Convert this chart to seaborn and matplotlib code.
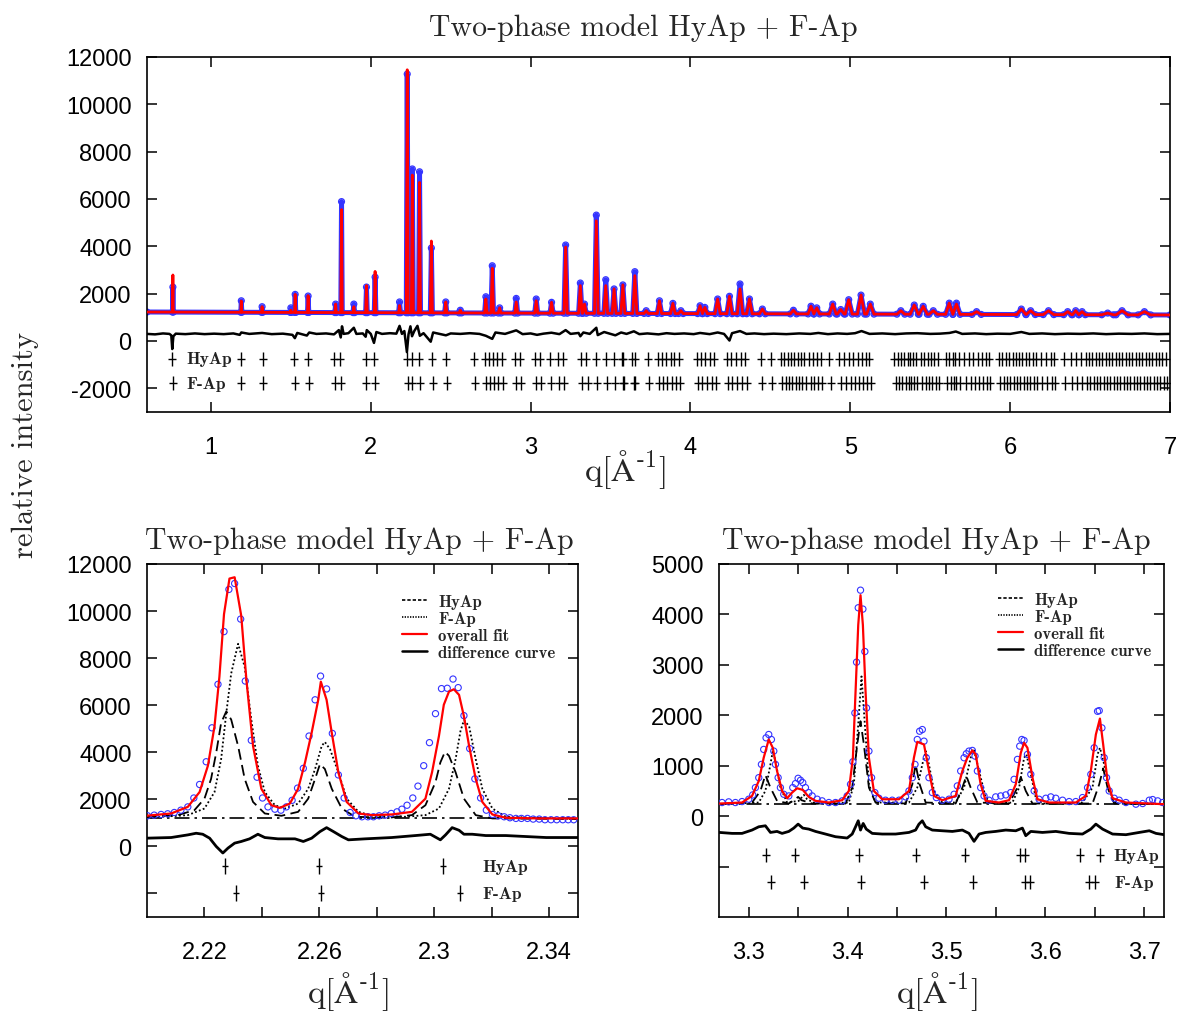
import numpy as np
import pandas as pd
import matplotlib
matplotlib.use("Agg")
import matplotlib.pyplot as plt
import seaborn as sns
from matplotlib.lines import Line2D
from matplotlib.ticker import FixedLocator
from matplotlib.font_manager import FontProperties

# ---------------- data: full pattern (top panel) ----------------
top_peak_q = [0.762, 1.19, 1.32, 1.50, 1.527, 1.608, 1.78, 1.817, 1.894, 1.973, 2.027, 2.18,
              2.228, 2.26, 2.305, 2.379, 2.469, 2.56, 2.72, 2.76, 2.806, 2.91, 3.035, 3.131,
              3.219, 3.311, 3.337, 3.411, 3.470, 3.522, 3.577, 3.652, 3.723, 3.806, 3.89, 3.94,
              4.06, 4.09, 4.17, 4.244, 4.31, 4.369, 4.45, 4.644, 4.754, 4.79, 4.89, 4.94, 4.99,
              5.067, 5.125, 5.316, 5.40, 5.456, 5.519, 5.619, 5.664, 5.79, 6.07, 6.128, 6.24,
              6.36, 6.41, 6.45, 6.61, 6.70, 6.84]
top_peak_fit = [2790, 1690, 1450, 1300, 1970, 1915, 1560, 5550, 1450, 2340, 2940, 1500,
                11460, 7010, 6700, 4225, 1650, 1300, 1775, 3070, 1400, 1650, 1700, 1635,
                3970, 2340, 1560, 5080, 2340, 2200, 2370, 2760, 1280, 1700, 1590, 1280,
                1490, 1420, 1775, 1890, 2200, 1775, 1350, 1300, 1470, 1400, 1560, 1330, 1745,
                1940, 1560, 1280, 1520, 1465, 1280, 1600, 1560, 1240, 1350, 1280, 1280,
                1240, 1280, 1240, 1180, 1280, 1240]
top_peak_obs = [2280, 1700, 1450, 1400, 1970, 1900, 1560, 5890, 1560, 2280, 2700, 1650,
                11280, 7270, 7150, 3930, 1650, 1300, 1870, 3180, 1400, 1800, 1775, 1635,
                4056, 2450, 1560, 5320, 2590, 2200, 2370, 2930, 1280, 1700, 1590, 1280,
                1490, 1420, 1775, 1890, 2410, 1775, 1350, 1300, 1470, 1400, 1560, 1330, 1745,
                1940, 1560, 1280, 1520, 1465, 1280, 1600, 1600, 1240, 1350, 1280, 1280,
                1240, 1280, 1240, 1180, 1280, 1240]
top_bg_q = [0.6, 7.0]
top_bg = [1225, 1100]

top_diff_q = [0.60, 0.65, 0.70, 0.74, 0.752, 0.758, 0.765, 0.78, 0.84, 0.90, 0.96, 1.02, 1.08, 1.14,
              1.18, 1.19, 1.24, 1.32, 1.38, 1.45, 1.51, 1.525, 1.54, 1.60, 1.615, 1.66, 1.72, 1.77,
              1.80, 1.812, 1.82, 1.83, 1.86, 1.894, 1.91, 1.95, 1.968, 1.975, 2.00, 2.02, 2.035,
              2.07, 2.12, 2.16, 2.18, 2.195, 2.21, 2.226, 2.236, 2.248, 2.258, 2.272, 2.292, 2.307,
              2.33, 2.375, 2.39, 2.43, 2.47, 2.50, 2.56, 2.62, 2.68, 2.72, 2.76, 2.78, 2.84, 2.91,
              2.95, 3.00, 3.04, 3.08, 3.13, 3.18, 3.219, 3.25, 3.30, 3.311, 3.33, 3.37, 3.411, 3.42,
              3.46, 3.50, 3.53, 3.566, 3.60, 3.646, 3.68, 3.73, 3.80, 3.85, 3.90, 3.96, 4.02, 4.06,
              4.12, 4.17, 4.21, 4.244, 4.26, 4.31, 4.35, 4.40, 4.46, 4.52, 4.60, 4.68, 4.75, 4.80,
              4.86, 4.92, 4.98, 5.03, 5.07, 5.12, 5.20, 5.28, 5.35, 5.42, 5.50, 5.56, 5.62, 5.66,
              5.70, 5.78, 5.85, 5.92, 6.00, 6.07, 6.12, 6.20, 6.28, 6.36, 6.44, 6.52, 6.60, 6.68,
              6.76, 6.84, 6.92, 7.00]
top_diff = [300, 280, 320, 300, 240, -340, 200, 310, 290, 320, 290, 310, 290, 320,
            260, 360, 300, 340, 290, 310, 260, 120, 340, 230, 360, 300, 320, 280,
            460, 150, 620, 300, 330, 560, 300, 320, 180, 460, 300, -80, 380,
            300, 330, 310, 640, 300, 420, -470, 280, 620, 200, 420, 640, 220,
            330, -30, 360, 300, 240, 320, 300, 330, 300, 220, 90, 360, 300, 450,
            290, 320, 260, 310, 350, 290, 460, 300, 340, 200, 360, 300, 560, 250,
            380, 300, 240, 360, 300, 410, 290, 320, 280, 330, 300, 320, 290, 340,
            290, 360, 300, 20, 330, 420, 300, 320, 290, 310, 290, 320, 300, 340,
            290, 320, 300, 330, 420, 300, 320, 290, 320, 330, 300, 310, 340, 400,
            300, 320, 290, 310, 300, 380, 300, 320, 290, 310, 300, 320, 290, 310,
            300, 320, 290, 300]

# reflection positions
hyap_pos = [0.758, 1.186, 1.323, 1.521, 1.608, 1.771, 1.806, 1.967, 2.019, 2.227, 2.26, 2.303,
            2.383, 2.469, 2.646, 2.7125, 2.7375, 2.764, 2.792, 2.823, 2.900, 2.931, 3.025, 3.056,
            3.119, 3.171, 3.202, 3.318, 3.347, 3.412, 3.4695, 3.519, 3.574, 3.5795, 3.635, 3.655,
            3.733, 3.796, 3.823, 3.848, 3.879, 3.900, 3.927, 4.042, 4.067, 4.094, 4.125, 4.150,
            4.227, 4.254, 4.286, 4.317, 4.344, 4.442, 4.504, 4.567, 4.588, 4.608, 4.629, 4.650,
            4.671, 4.692, 4.713, 4.744, 4.764, 4.790, 4.817, 4.869, 4.931, 4.963, 4.994, 5.019,
            5.046, 5.071, 5.098, 5.119, 5.275, 5.296, 5.317, 5.338, 5.358, 5.373, 5.390, 5.410,
            5.442, 5.463, 5.483, 5.504, 5.525, 5.546, 5.598, 5.619, 5.640, 5.656, 5.681, 5.713,
            5.744, 5.769, 5.796, 5.823, 5.848, 5.869, 5.931, 5.952, 5.973, 5.994, 6.015, 6.035,
            6.056, 6.077, 6.098, 6.119, 6.140, 6.161, 6.192, 6.223, 6.254, 6.275, 6.338, 6.379,
            6.410, 6.442, 6.473, 6.494, 6.515, 6.535, 6.556, 6.577, 6.598, 6.619, 6.640, 6.661,
            6.682, 6.702, 6.723, 6.744, 6.765, 6.786, 6.806, 6.827, 6.848, 6.869, 6.890, 6.910,
            6.931, 6.952, 6.973]
fap_pos = [0.760, 1.190, 1.327, 1.526, 1.612, 1.776, 1.811, 1.972, 2.024, 2.231, 2.2605, 2.309,
           2.389, 2.475, 2.655, 2.719, 2.744, 2.770, 2.798, 2.830, 2.906, 2.938, 3.031, 3.063,
           3.126, 3.178, 3.209, 3.323, 3.356, 3.414, 3.477, 3.527, 3.5795, 3.584, 3.644, 3.650,
           3.742, 3.803, 3.830, 3.856, 3.886, 3.908, 3.935, 4.050, 4.075, 4.102, 4.133, 4.158,
           4.235, 4.262, 4.294, 4.325, 4.352, 4.450, 4.512, 4.575, 4.596, 4.616, 4.637, 4.658,
           4.679, 4.700, 4.721, 4.752, 4.772, 4.798, 4.825, 4.877, 4.939, 4.971, 5.002, 5.027,
           5.054, 5.079, 5.106, 5.127, 5.283, 5.304, 5.325, 5.346, 5.366, 5.381, 5.398, 5.418,
           5.450, 5.471, 5.491, 5.512, 5.533, 5.554, 5.606, 5.627, 5.648, 5.664, 5.689, 5.721,
           5.752, 5.777, 5.804, 5.831, 5.856, 5.877, 5.939, 5.960, 5.981, 6.002, 6.023, 6.043,
           6.064, 6.085, 6.106, 6.127, 6.148, 6.169, 6.200, 6.231, 6.262, 6.283, 6.346, 6.387,
           6.418, 6.450, 6.481, 6.502, 6.523, 6.543, 6.564, 6.585, 6.606, 6.627, 6.648, 6.669,
           6.690, 6.710, 6.731, 6.752, 6.773, 6.794, 6.814, 6.835, 6.856, 6.877, 6.898, 6.918,
           6.939, 6.960, 6.981]

# ---------------- data: zoom 2.20-2.35 ----------------
bl_fit_q = [2.1996, 2.2084, 2.2142, 2.2183, 2.2212, 2.2235, 2.2252, 2.2268, 2.2287, 2.2305, 2.2328,
            2.2346, 2.2369, 2.2398, 2.2433, 2.2462, 2.2497, 2.2526, 2.2550, 2.2573, 2.2596, 2.2605,
            2.2625, 2.2643, 2.2666, 2.2695, 2.2736, 2.2783, 2.2852, 2.2922, 2.2969, 2.2992, 2.3016,
            2.3033, 2.3051, 2.3068, 2.3086, 2.3103, 2.3121, 2.3144, 2.3167, 2.3202, 2.3249, 2.3365,
            2.3503]
bl_fit = [1301, 1399, 1679, 2309, 3429, 5109, 7209, 9869, 11381, 11437, 9799,
          7069, 4269, 2449, 1749, 1637, 1819, 2449, 3569, 4829, 6229, 7000,
          6229, 4829, 3149, 1889, 1399, 1329, 1357, 1469, 2029, 3149, 4689,
          6019, 6579, 6677, 6439, 5529, 4269, 2869, 1889, 1357, 1217, 1189,
          1189]
bl_obs_q = [2.2002, 2.2025, 2.2049, 2.2072, 2.2095, 2.2118, 2.2142, 2.2163, 2.2183, 2.2206, 2.2226,
            2.2247, 2.2268, 2.2285, 2.2305, 2.2326, 2.2342, 2.2363, 2.2383, 2.2402, 2.2421, 2.2445,
            2.2466, 2.2485, 2.2505, 2.2524, 2.2544, 2.2564, 2.2585, 2.2604, 2.2625, 2.2645, 2.2666,
            2.2686, 2.2707, 2.2727, 2.2748, 2.2769, 2.2788, 2.2808, 2.2829, 2.2850, 2.2870, 2.2887,
            2.2905, 2.2925, 2.2943, 2.2963, 2.2983, 2.3004, 2.3025, 2.3045, 2.3065, 2.3083, 2.3103,
            2.3123, 2.3141, 2.3161, 2.3181, 2.3202, 2.3223, 2.3243, 2.3263, 2.3284, 2.3303, 2.3324,
            2.3344, 2.3365, 2.3385, 2.3406, 2.3426, 2.3447, 2.3466, 2.3485]
bl_obs = [1301, 1329, 1357, 1385, 1441, 1539, 1679, 2057, 2631, 3597, 5039,
          6887, 9127, 10919, 11171, 9659, 7027, 4507, 2939, 2057, 1679, 1581,
          1539, 1679, 1959, 2477, 3317, 4689, 6229, 7237, 6691, 4801, 3037,
          2057, 1441, 1301, 1259, 1259, 1259, 1301, 1329, 1399, 1469, 1581,
          1749, 2057, 2561, 3429, 4409, 5641, 6705, 6719, 7111, 6747, 5557,
          4157, 2869, 2057, 1539, 1357, 1301, 1259, 1217, 1189, 1189, 1189,
          1161, 1161, 1133, 1133, 1133, 1133, 1133, 1133]
bl_hyap_q = [2.1996, 2.2107, 2.2165, 2.2200, 2.2223, 2.2241, 2.2258, 2.2276, 2.2293, 2.2317, 2.2340,
             2.2369, 2.2410, 2.2468, 2.2526, 2.2561, 2.2585, 2.2602, 2.2619, 2.2643, 2.2678, 2.2724,
             2.2841, 2.2922, 2.2969, 2.3004, 2.3021, 2.3037, 2.3051, 2.3074, 2.3103, 2.3144, 2.3202,
             2.3503]
bl_hyap = [1259, 1329, 1539, 2029, 2869, 3989, 5249, 5739, 5389, 4269, 2869,
           1889, 1399, 1301, 1469, 2029, 2869, 3499, 3289, 2449, 1609, 1259,
           1217, 1329, 1749, 2729, 3569, 4017, 3849, 3149, 2029, 1329, 1189,
           1161]
bl_fap_q = [2.1996, 2.2142, 2.2200, 2.2235, 2.2258, 2.2276, 2.2293, 2.2317, 2.2340, 2.2363, 2.2386,
            2.2410, 2.2445, 2.2480, 2.2526, 2.2561, 2.2585, 2.2608, 2.2619, 2.2637, 2.2666, 2.2695,
            2.2736, 2.2783, 2.2899, 2.2969, 2.3016, 2.3051, 2.3074, 2.3091, 2.3103, 2.3121, 2.3144,
            2.3167, 2.3202, 2.3249, 2.3503]
bl_fap = [1217, 1329, 1609, 2309, 3709, 5669, 7349, 8609, 7629, 5389, 3429,
          2309, 1749, 1609, 1819, 2449, 3289, 4269, 4437, 4129, 3149, 2029,
          1469, 1301, 1259, 1329, 1609, 2449, 3709, 4899, 5361, 5109, 3709,
          2449, 1609, 1259, 1161]
bl_diff_q = [2.1996, 2.2084, 2.2142, 2.2171, 2.2194, 2.2218, 2.2241, 2.2264, 2.2282, 2.2305, 2.2328,
             2.2357, 2.2386, 2.2410, 2.2456, 2.2515, 2.2544, 2.2573, 2.2602, 2.2625, 2.2649, 2.2678,
             2.2701, 2.2759, 2.2852, 2.2934, 2.2986, 2.3021, 2.3039, 2.3062, 2.3086, 2.3103, 2.3132,
             2.3179, 2.3249, 2.3319, 2.3389, 2.3458, 2.3503]
bl_diff = [349, 377, 489, 559, 517, 349, -3, -281, -71, 139, 209,
           321, 517, 377, 321, 321, 209, 349, 629, 797, 629, 419,
           279, 321, 377, 461, 517, 279, 489, 797, 685, 517, 517,
           461, 461, 419, 377, 377, 377]
bl_bg_q = [2.2, 2.35]
bl_bg = [1190, 1190]

# ---------------- data: zoom 3.27-3.72 ----------------
br_fit_q = [3.2704, 3.2933, 3.3034, 3.3102, 3.3152, 3.3203, 3.3244, 3.3287, 3.3338, 3.3389, 3.3439,
            3.3490, 3.3547, 3.3608, 3.3676, 3.3811, 3.3946, 3.4013, 3.4054, 3.4081, 3.4108, 3.4131,
            3.4155, 3.4182, 3.4216, 3.4266, 3.4351, 3.4520, 3.4621, 3.4671, 3.4705, 3.4773, 3.4823,
            3.4874, 3.4958, 3.5093, 3.5161, 3.5211, 3.5262, 3.5296, 3.5346, 3.5397, 3.5532, 3.5633,
            3.5701, 3.5752, 3.5785, 3.5819, 3.5870, 3.5920, 3.6039, 3.6308, 3.6410, 3.6460, 3.6511,
            3.6552, 3.6585, 3.6629, 3.6680, 3.6815, 3.7203]
br_fit = [250, 270, 401, 697, 1158, 1520, 1355, 895, 500, 355, 467,
          553, 520, 382, 303, 270, 316, 500, 1158, 2474, 3790, 4382,
          3790, 2474, 1158, 500, 335, 335, 500, 1158, 1474, 1421, 895,
          401, 316, 401, 895, 1158, 1303, 1224, 632, 303, 270, 316,
          632, 1257, 1454, 1355, 763, 335, 270, 270, 401, 895, 1619,
          1934, 1421, 697, 355, 270, 237]
br_obs_q = [3.2731, 3.2798, 3.2866, 3.2933, 3.3001, 3.3041, 3.3068, 3.3102, 3.3129, 3.3152, 3.3176,
            3.3203, 3.3230, 3.3254, 3.3271, 3.3298, 3.3321, 3.3355, 3.3406, 3.3446, 3.3473, 3.3500,
            3.3524, 3.3547, 3.3574, 3.3608, 3.3642, 3.3693, 3.3743, 3.3811, 3.3878, 3.3946, 3.3996,
            3.4030, 3.4054, 3.4074, 3.4091, 3.4108, 3.4131, 3.4155, 3.4175, 3.4192, 3.4216, 3.4243,
            3.4276, 3.4317, 3.4384, 3.4452, 3.4520, 3.4587, 3.4621, 3.4655, 3.4682, 3.4705, 3.4729,
            3.4756, 3.4773, 3.4796, 3.4823, 3.4857, 3.4898, 3.4958, 3.5026, 3.5077, 3.5110, 3.5144,
            3.5178, 3.5201, 3.5228, 3.5262, 3.5289, 3.5313, 3.5346, 3.5380, 3.5431, 3.5498, 3.5549,
            3.5600, 3.5650, 3.5684, 3.5718, 3.5741, 3.5762, 3.5785, 3.5819, 3.5853, 3.5887, 3.5937,
            3.6005, 3.6055, 3.6106, 3.6174, 3.6241, 3.6308, 3.6376, 3.6427, 3.6460, 3.6494, 3.6528,
            3.6545, 3.6572, 3.6595, 3.6619, 3.6646, 3.6697, 3.6747, 3.6815, 3.6916, 3.6984, 3.7051,
            3.7085, 3.7136, 3.7186]
br_obs = [270, 283, 270, 289, 336, 421, 566, 763, 1026, 1323, 1553,
          1619, 1520, 1290, 1026, 763, 566, 434, 401, 566, 645, 750,
          711, 665, 566, 467, 401, 336, 303, 270, 270, 303, 401,
          632, 1079, 2046, 3053, 4132, 4481, 4106, 3264, 2145, 1290, 763,
          467, 355, 316, 316, 316, 382, 500, 763, 1026, 1520, 1684,
          1717, 1487, 1158, 763, 467, 368, 316, 336, 434, 599, 895,
          1158, 1237, 1290, 1303, 1191, 895, 566, 401, 316, 382, 401,
          421, 467, 730, 1125, 1388, 1520, 1500, 1224, 829, 500, 335,
          355, 382, 355, 316, 289, 289, 368, 566, 829, 1355, 2079,
          2092, 1750, 1158, 763, 500, 355, 316, 270, 237, 250, 316,
          329, 303, 270]
br_hyap_q = [3.2704, 3.3034, 3.3119, 3.3169, 3.3220, 3.3287, 3.3406, 3.3473, 3.3500, 3.3534, 3.3642,
             3.3980, 3.4047, 3.4098, 3.4131, 3.4165, 3.4216, 3.4283, 3.4587, 3.4655, 3.4688, 3.4729,
             3.4790, 3.5093, 3.5161, 3.5201, 3.5245, 3.5313, 3.5633, 3.5718, 3.5752, 3.5802, 3.5870,
             3.6477, 3.6545, 3.6585, 3.6629, 3.6697, 3.7203]
br_hyap = [237, 270, 500, 816, 566, 303, 250, 336, 382, 316, 250,
           250, 566, 1421, 1882, 1421, 566, 270, 250, 632, 1026, 632,
           270, 250, 566, 796, 566, 270, 250, 566, 776, 500, 250,
           250, 632, 947, 566, 250, 237]
br_fap_q = [3.2704, 3.3102, 3.3169, 3.3220, 3.3244, 3.3271, 3.3321, 3.3389, 3.3507, 3.3558, 3.3591,
            3.3676, 3.4013, 3.4064, 3.4108, 3.4141, 3.4175, 3.4216, 3.4283, 3.4621, 3.4705, 3.4756,
            3.4790, 3.4823, 3.4874, 3.4958, 3.5093, 3.5178, 3.5245, 3.5279, 3.5330, 3.5397, 3.5465,
            3.5667, 3.5735, 3.5785, 3.5809, 3.5853, 3.5903, 3.5971, 3.6376, 3.6477, 3.6528, 3.6552,
            3.6595, 3.6646, 3.6714, 3.7203]
br_fap = [237, 270, 500, 1026, 1290, 1092, 566, 270, 303, 421, 336,
          250, 270, 632, 1816, 2770, 1816, 632, 270, 270, 566, 1026,
          1290, 1026, 500, 270, 270, 566, 1158, 1303, 895, 368, 250,
          270, 566, 1158, 1224, 829, 368, 250, 270, 566, 1224, 1355,
          1026, 500, 250, 237]
br_diff_q = [3.2704, 3.2832, 3.2933, 3.3034, 3.3102, 3.3169, 3.3220, 3.3287, 3.3338, 3.3406, 3.3456,
             3.3500, 3.3547, 3.3608, 3.3676, 3.3777, 3.3878, 3.3996, 3.4047, 3.4081, 3.4108, 3.4131,
             3.4158, 3.4189, 3.4250, 3.4351, 3.4486, 3.4621, 3.4688, 3.4722, 3.4756, 3.4790, 3.4857,
             3.4958, 3.5060, 3.5161, 3.5228, 3.5279, 3.5330, 3.5397, 3.5498, 3.5600, 3.5701, 3.5768,
             3.5802, 3.5853, 3.5971, 3.6106, 3.6241, 3.6376, 3.6460, 3.6511, 3.6579, 3.6680, 3.6815,
             3.6950, 3.7051, 3.7119, 3.7203]
br_diff = [-323, -342, -342, -276, -211, -191, -323, -303, -342, -303, -237,
           -158, -237, -257, -303, -355, -408, -434, -355, -211, -92, -276,
           -145, -257, -342, -355, -355, -323, -276, -158, -92, -211, -276,
           -290, -303, -276, -342, -500, -355, -323, -303, -276, -290, -237,
           -388, -303, -323, -303, -342, -355, -257, -158, -257, -355, -368,
           -323, -290, -342, -368]
br_bg_q = [3.27, 3.72]
br_bg = [245, 245]

title_text = "Two-phase model HyAp + F-Ap"
phase_names = ["HyAp", "F-Ap"]
legend_labels = ["HyAp", "F-Ap", "overall fit", "difference curve"]
top_yticks = [-2000, 0, 2000, 4000, 6000, 8000, 10000, 12000]
top_xticks = [1, 2, 3, 4, 5, 6, 7]
bl_yticks = [-2000, 0, 2000, 4000, 6000, 8000, 10000, 12000]
bl_xticks = [2.22, 2.26, 2.30, 2.34]
bl_xlabels = ["2.22", "2.26", "2.3", "2.34"]
bl_xminor = [2.24, 2.28, 2.32]
br_yticks = [-1000, 0, 1000, 2000, 3000, 4000, 5000]
br_xticks = [3.3, 3.4, 3.5, 3.6, 3.7]
br_xlabels = ["3.3", "3.4", "3.5", "3.6", "3.7"]
br_xminor = [3.35, 3.45, 3.55, 3.65]

# ---------------- style ----------------
sns.set_theme(style="ticks")
plt.rcParams["font.family"] = ["Liberation Sans", "DejaVu Sans"]
plt.rcParams["mathtext.fontset"] = "cm"
plt.rcParams["axes.unicode_minus"] = False

BLUE = "#3434ff"
RED = "#ff0000"
SERIF = ["cmr10", "DejaVu Serif"]
BOLDSERIF = FontProperties(family=["cmb10", "DejaVu Serif"], size=12.5)
DASH = (0, (6, 3))
DOT = (0, (1, 1.3))
DASHDOT = (0, (9, 3, 1.5, 3))

fig = plt.figure(figsize=(11.77, 10.12), dpi=100)
ax_top = fig.add_axes([147 / 1177, 1 - 413 / 1012, 1023 / 1177, 355 / 1012])
ax_bl = fig.add_axes([147 / 1177, 1 - 918 / 1012, 431 / 1177, 353 / 1012])
ax_br = fig.add_axes([719 / 1177, 1 - 918 / 1012, 445 / 1177, 353 / 1012])


def style_axes(ax, xpad=17, ypad=11):
    for s in ax.spines.values():
        s.set_linewidth(1.2)
        s.set_color("black")
    ax.tick_params(which="both", direction="in", length=7, width=1.1, top=True, right=True,
                   labelsize=17, colors="black")
    ax.tick_params(axis="x", which="both", pad=xpad)
    ax.tick_params(axis="y", which="both", pad=ypad)
    ax.set_xlabel("")
    ax.set_ylabel("")
    ax.grid(False)
    ax.set_facecolor("white")


def tick_rows(ax, pos, yrow, ms_v, ms_h):
    ax.plot(pos, [yrow] * len(pos), ls="none", marker="|", ms=ms_v, mew=1.0, color="black")
    ax.plot(pos, [yrow] * len(pos), ls="none", marker="_", ms=ms_h, mew=1.0, color="black")


# ---------------- top panel ----------------
def spike_polyline(qs, hs):
    xs, ys = [top_bg_q[0]], [top_bg[0]]
    n = len(qs)
    for i, (q, h) in enumerate(zip(qs, hs)):
        hw = 0.002 + 0.0008 * q * q
        if i > 0:
            hw = min(hw, (q - qs[i - 1]) / 2)
        if i < n - 1:
            hw = min(hw, (qs[i + 1] - q) / 2)
        xs += [q - hw, q, q + hw]
        ys += [np.interp(q - hw, top_bg_q, top_bg), h, np.interp(q + hw, top_bg_q, top_bg)]
    xs.append(top_bg_q[-1])
    ys.append(top_bg[-1])
    return xs, ys


ox, oy = spike_polyline(top_peak_q, top_peak_obs)
fx, fy = spike_polyline(top_peak_q, top_peak_fit)
sns.lineplot(x=ox, y=oy, sort=False, estimator=None, color=BLUE, lw=3.6, ax=ax_top, zorder=2)
ax_top.scatter(ox, oy, s=18, facecolors="none", edgecolors=BLUE, lw=0.9, zorder=2)
sns.lineplot(x=fx, y=fy, sort=False, estimator=None, color=RED, lw=2.0, ax=ax_top, zorder=3)
sns.lineplot(x=top_diff_q, y=top_diff, sort=False, estimator=None, color="black", lw=1.8,
             ax=ax_top, zorder=3)
tick_rows(ax_top, hyap_pos, -760, 9.5, 6)
tick_rows(ax_top, fap_pos, -1775, 9.5, 6)
for name, yrow in zip(phase_names, [-760, -1775]):
    ax_top.text(0.845, yrow, name, fontproperties=BOLDSERIF, va="center", ha="left",
                color="#222222", bbox=dict(facecolor="white", edgecolor="none", pad=1.0), zorder=5)
ax_top.set_xlim(0.6, 7.0)
ax_top.set_ylim(-3000, 12000)
ax_top.set_xticks(top_xticks)
ax_top.set_yticks(top_yticks)
ax_top.set_yticklabels([str(v) for v in top_yticks])
style_axes(ax_top)

# ---------------- bottom panels ----------------
def zoom_panel(ax, bg_q, bg, hq, hv, fq, fv, oq, ov, fitq, fitv, dq, dv):
    sns.lineplot(x=bg_q, y=bg, sort=False, estimator=None, color="black", lw=1.2,
                 linestyle=DASHDOT, ax=ax)
    sns.lineplot(x=hq, y=hv, sort=False, estimator=None, color="black", lw=1.3,
                 linestyle=DASH, ax=ax)
    sns.lineplot(x=fq, y=fv, sort=False, estimator=None, color="black", lw=1.3,
                 linestyle=DOT, ax=ax)
    ax.scatter(oq, ov, s=20, facecolors="none", edgecolors=BLUE, lw=0.8, zorder=3)
    sns.lineplot(x=fitq, y=fitv, sort=False, estimator=None, color=RED, lw=1.6, ax=ax, zorder=4)
    sns.lineplot(x=dq, y=dv, sort=False, estimator=None, color="black", lw=2.0, ax=ax)


zoom_panel(ax_bl, bl_bg_q, bl_bg, bl_hyap_q, bl_hyap, bl_fap_q, bl_fap, bl_obs_q, bl_obs,
           bl_fit_q, bl_fit, bl_diff_q, bl_diff)
tick_rows(ax_bl, hyap_pos, -850, 11, 5)
tick_rows(ax_bl, fap_pos, -2000, 11, 5)
ax_bl.text(2.3167, -850, phase_names[0], fontproperties=BOLDSERIF, va="center", ha="left", color="#222222")
ax_bl.text(2.3167, -2000, phase_names[1], fontproperties=BOLDSERIF, va="center", ha="left", color="#222222")
ax_bl.set_xlim(2.2, 2.35)
ax_bl.set_ylim(-3000, 12000)
ax_bl.set_xticks(bl_xticks)
ax_bl.set_xticklabels(bl_xlabels)
ax_bl.xaxis.set_minor_locator(FixedLocator(bl_xminor))
ax_bl.set_yticks(bl_yticks)
ax_bl.set_yticklabels([str(v) if v >= 0 else "" for v in bl_yticks])
style_axes(ax_bl)

zoom_panel(ax_br, br_bg_q, br_bg, br_hyap_q, br_hyap, br_fap_q, br_fap, br_obs_q, br_obs,
           br_fit_q, br_fit, br_diff_q, br_diff)
tick_rows(ax_br, hyap_pos, -780, 9.5, 6)
tick_rows(ax_br, fap_pos, -1310, 9.5, 6)
ax_br.text(3.6687, -780, phase_names[0], fontproperties=BOLDSERIF, va="center", ha="left", color="#222222")
ax_br.text(3.6697, -1310, phase_names[1], fontproperties=BOLDSERIF, va="center", ha="left", color="#222222")
ax_br.set_xlim(3.27, 3.72)
ax_br.set_ylim(-2000, 5000)
ax_br.set_xticks(br_xticks)
ax_br.set_xticklabels(br_xlabels)
ax_br.xaxis.set_minor_locator(FixedLocator(br_xminor))
ax_br.set_yticks(br_yticks)
ax_br.set_yticklabels([str(v) if v >= 0 else "" for v in br_yticks])
style_axes(ax_br)

# legends
for ax, anchor in [(ax_bl, (0.591, 0.916)), (ax_br, (0.626, 0.921))]:
    handles = [Line2D([], [], color="black", lw=1.2, ls=(0, (2, 1.2))),
               Line2D([], [], color="black", lw=1.2, ls=(0, (0.8, 0.8))),
               Line2D([], [], color=RED, lw=1.6),
               Line2D([], [], color="black", lw=1.8)]
    ax.legend(handles, legend_labels, loc="upper left", bbox_to_anchor=anchor, frameon=False,
              prop=FontProperties(family=["cmb10", "DejaVu Serif"], size=12),
              handlelength=1.5, handletextpad=0.7, labelspacing=0.12,
              borderpad=0, borderaxespad=0)

# titles and labels
fig.text(643 / 1177, 1 - 28 / 1012, title_text, family=SERIF, fontsize=21.5, ha="center", va="center")
fig.text(359 / 1177, 1 - 541 / 1012, title_text, family=SERIF, fontsize=21.5, ha="center", va="center")
fig.text(936 / 1177, 1 - 541 / 1012, title_text, family=SERIF, fontsize=21.5, ha="center", va="center")
xlab = r"$\mathrm{q[\AA^{\text{-}1}]}$"
fig.text(625 / 1177, 1 - 470 / 1012, xlab, fontsize=24, ha="center", va="center")
fig.text(348 / 1177, 1 - 992 / 1012, xlab, fontsize=24, ha="center", va="center")
fig.text(937 / 1177, 1 - 992 / 1012, xlab, fontsize=24, ha="center", va="center")
fig.text(25 / 1177, 1 - 445 / 1012, "relative intensity", family=SERIF, fontsize=22,
         rotation=90, ha="center", va="center")

fig.savefig("out.png", dpi=100, facecolor="white")
